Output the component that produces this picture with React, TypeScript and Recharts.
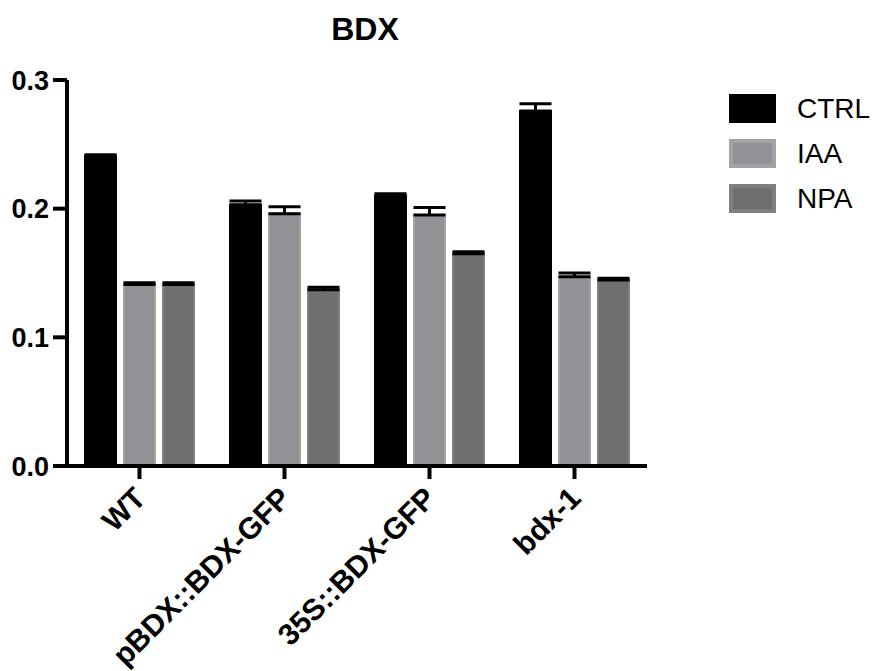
import { BarChart, Bar, XAxis, YAxis, ErrorBar } from 'recharts';

const groups = ['WT', 'pBDX::BDX-GFP', '35S::BDX-GFP', 'bdx-1'];
const ctrl = [0.241, 0.203, 0.21, 0.276];
const ctrlErr = [0.001, 0.003, 0.0015, 0.0055];
const iaa = [0.141, 0.196, 0.195, 0.147];
const iaaErr = [0.0015, 0.0055, 0.006, 0.003];
const npa = [0.141, 0.137, 0.165, 0.1445];
const npaErr = [0.0015, 0.002, 0.0015, 0.0015];
const yTicks = [0, 0.1, 0.2, 0.3];

const SERIES = [
  { key: 'CTRL', fill: '#000000', stroke: '#000000' },
  { key: 'IAA', fill: '#929296', stroke: '#a3a3a5' },
  { key: 'NPA', fill: '#6f6f6f', stroke: '#808080' },
];

const FONT = '"Liberation Sans", Arial, sans-serif';

const data = groups.map((g, i) => ({
  group: g,
  CTRL: ctrl[i],
  CTRLErr: [0, ctrlErr[i]],
  IAA: iaa[i],
  IAAErr: [0, iaaErr[i]],
  NPA: npa[i],
  NPAErr: [0, npaErr[i]],
}));

// rotated category labels, anchored at their end just under the tick
function XTick({ x, y, payload }: any) {
  const tx = x + 8;
  const ty = y + 19;
  return (
    <text
      x={tx}
      y={ty}
      transform={`rotate(-45, ${tx}, ${ty})`}
      textAnchor="end"
      fontFamily={FONT}
      fontWeight="bold"
      fontSize={30}
      fill="#000"
    >
      {payload.value}
    </text>
  );
}

function LegendBox() {
  return (
    <div style={{ position: 'absolute', left: 729, top: 86, fontFamily: FONT }}>
      {SERIES.map((s) => (
        <div key={s.key} style={{ display: 'flex', alignItems: 'center', height: 45 }}>
          <div
            style={{
              width: 47, height: 29, boxSizing: 'border-box',
              background: s.fill, border: `4px solid ${s.stroke}`,
            }}
          />
          <span style={{ marginLeft: 21, fontSize: 28, color: '#000' }}>{s.key}</span>
        </div>
      ))}
    </div>
  );
}

export default function App() {
  return (
    <div style={{ position: 'relative', width: 880, height: 671, marginLeft: -8, marginTop: -8, background: '#fff' }}>
      <div
        style={{
          position: 'absolute', left: 265, top: 13, width: 200, textAlign: 'center',
          fontFamily: FONT, fontWeight: 'bold', fontSize: 32, lineHeight: '32px', zIndex: 2,
        }}
      >
        BDX
      </div>
      <LegendBox />
      <BarChart
        width={880}
        height={671}
        data={data}
        margin={{ top: 80, right: 233, bottom: 15, left: 7 }}
        barGap={8}
        barSize={31}
      >
        <YAxis
          width={60}
          domain={[0, 0.3]}
          ticks={yTicks}
          tickFormatter={(v) => v.toFixed(1)}
          axisLine={{ stroke: '#000', strokeWidth: 4 }}
          tickLine={{ stroke: '#000', strokeWidth: 4 }}
          tickSize={14}
          tickMargin={4}
          tick={{ fill: '#000', fontFamily: FONT, fontWeight: 'bold', fontSize: 27 }}
        />
        <XAxis
          dataKey="group"
          height={190}
          interval={0}
          axisLine={{ stroke: '#000', strokeWidth: 4 }}
          tickLine={{ stroke: '#000', strokeWidth: 4 }}
          tickSize={13}
          tick={<XTick />}
        />
        {SERIES.map((s) => (
          <Bar key={s.key} dataKey={s.key} fill={s.fill} stroke={s.stroke} strokeWidth={2} isAnimationActive={false}>
            <ErrorBar dataKey={`${s.key}Err`} width={16} stroke="#000" strokeWidth={3} direction="y" />
          </Bar>
        ))}
      </BarChart>
    </div>
  );
}
